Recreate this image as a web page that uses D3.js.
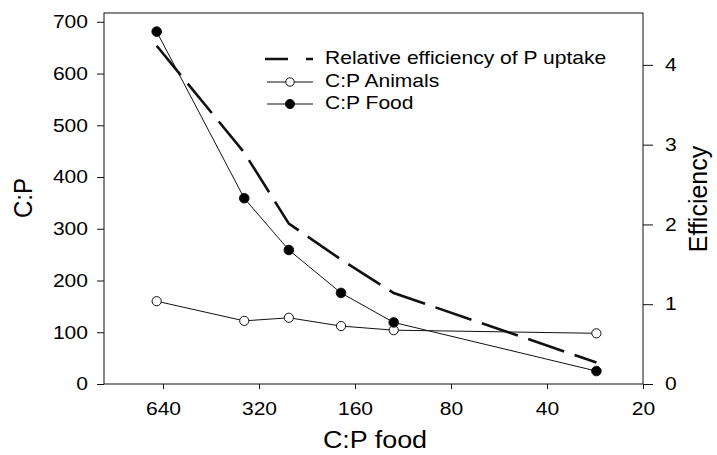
<!DOCTYPE html>
<html>
<head>
<meta charset="utf-8">
<script src="https://cdn.jsdelivr.net/npm/d3@7"></script>
<style>
  html, body { margin: 0; padding: 0; background: #fff; }
  svg { display: block; font-family: "Liberation Sans", Arial, sans-serif; }
</style>
</head>
<body>
<svg id="chart" width="717" height="455"></svg>
<script>
// ---- data ----
const cpFoodX = [670, 356, 258, 177, 121, 28];          // C:P of food (x, log scale)
const cpFood = [681, 359, 259, 176, 119, 25];           // C:P Food (left axis)
const cpAnimals = [160, 122, 128, 112, 104, 98];        // C:P Animals (left axis)
const efficiency = [4.24, 2.90, 2.01, 1.56, 1.14, 0.27]; // Relative efficiency (right axis)
const xTickValues = [640, 320, 160, 80, 40, 20];
const yLeftTicks = [0, 100, 200, 300, 400, 500, 600, 700];
const yRightTicks = [0, 1, 2, 3, 4];
const legendLabels = ["Relative efficiency of P uptake", "C:P Animals", "C:P Food"];

// ---- layout ----
const L = 104, R = 643, T = 13, B = 384;
const SX = 1.17; // horizontal stretch of the scanned text

const svg = d3.select("#chart");
const x = d3.scaleLog().base(2).domain([980, 20]).range([L, R]);
const yL = d3.scaleLinear().domain([0, 717]).range([B, T]);
const yR = d3.scaleLinear().domain([0, 4.65]).range([B, T]);

function stretch(sel) {
  sel.each(function () {
    const t = d3.select(this);
    const ax = +(t.attr("x") || 0);
    t.attr("transform", `translate(${ax},0) scale(${SX},1) translate(${-ax},0)`);
  });
}

const ink = "#111";

// frame
svg.append("rect").attr("x", L).attr("y", T).attr("width", R - L).attr("height", B - T)
  .attr("fill", "none").attr("stroke", ink).attr("stroke-width", 1);

// axes
const gx = svg.append("g").attr("transform", `translate(0,${B})`)
  .call(d3.axisBottom(x).tickValues(xTickValues).tickFormat(d3.format("d")).tickSize(5).tickPadding(13).tickSizeOuter(0));
const gl = svg.append("g").attr("transform", `translate(${L},0)`)
  .call(d3.axisLeft(yL).tickValues(yLeftTicks).tickSize(7).tickPadding(9).tickSizeOuter(0));
const gr = svg.append("g").attr("transform", `translate(${R},0)`)
  .call(d3.axisRight(yR).tickValues(yRightTicks).tickFormat(d3.format("d")).tickSize(10).tickPadding(12).tickSizeOuter(0));

[gx, gl, gr].forEach(g => {
  g.select(".domain").remove();
  g.selectAll(".tick line").attr("stroke", ink);
  g.selectAll(".tick text").attr("font-size", 18).attr("fill", "#000")
    .attr("font-family", "Liberation Sans, Arial, sans-serif").call(stretch);
});

// axis titles
svg.append("text").attr("x", 375).attr("y", 448).attr("text-anchor", "middle")
  .attr("font-size", 23).text("C:P food").call(stretch);
svg.append("text").attr("transform", `translate(32,198) scale(1.08,1) rotate(-90)`)
  .attr("text-anchor", "middle").attr("font-size", 24).text("C:P");
svg.append("text").attr("transform", `translate(707,199) rotate(-90)`)
  .attr("text-anchor", "middle").attr("font-size", 25).text("Efficiency");

// lines
const idx = d3.range(cpFoodX.length);
const lineEff = d3.line().x(i => x(cpFoodX[i])).y(i => yR(efficiency[i]));
const lineFood = d3.line().x(i => x(cpFoodX[i])).y(i => yL(cpFood[i]));
const lineAnim = d3.line().x(i => x(cpFoodX[i])).y(i => yL(cpAnimals[i]));

svg.append("path").attr("d", lineAnim(idx)).attr("fill", "none").attr("stroke", ink).attr("stroke-width", 1);
svg.append("path").attr("d", lineFood(idx)).attr("fill", "none").attr("stroke", ink).attr("stroke-width", 1);
svg.append("path").attr("d", lineEff(idx)).attr("fill", "none").attr("stroke", ink)
  .attr("stroke-width", 2.6).attr("stroke-dasharray", "38,11");

svg.selectAll("circle.anim").data(idx).join("circle").attr("class", "anim")
  .attr("cx", i => x(cpFoodX[i])).attr("cy", i => yL(cpAnimals[i])).attr("r", 4.6)
  .attr("fill", "#fff").attr("stroke", ink).attr("stroke-width", 1);
svg.selectAll("circle.food").data(idx).join("circle").attr("class", "food")
  .attr("cx", i => x(cpFoodX[i])).attr("cy", i => yL(cpFood[i])).attr("r", 4.8)
  .attr("fill", "#000").attr("stroke", ink).attr("stroke-width", 1);

// legend
const lg = svg.append("g");
const ly = [59, 82, 104];
lg.append("line").attr("x1", 265).attr("x2", 313).attr("y1", ly[0]).attr("y2", ly[0])
  .attr("stroke", ink).attr("stroke-width", 2.6).attr("stroke-dasharray", "23,18,7,50");
lg.append("line").attr("x1", 267).attr("x2", 313).attr("y1", ly[1]).attr("y2", ly[1])
  .attr("stroke", ink).attr("stroke-width", 1);
lg.append("circle").attr("cx", 290).attr("cy", ly[1]).attr("r", 4.2)
  .attr("fill", "#fff").attr("stroke", ink);
lg.append("line").attr("x1", 267).attr("x2", 313).attr("y1", ly[2]).attr("y2", ly[2])
  .attr("stroke", ink).attr("stroke-width", 1);
lg.append("circle").attr("cx", 290).attr("cy", ly[2]).attr("r", 4.6)
  .attr("fill", "#000").attr("stroke", ink);
legendLabels.forEach((t, i) => {
  lg.append("text").attr("x", 325).attr("y", ly[i] + 5.5).attr("font-size", 18).text(t).call(stretch);
});
</script>
</body>
</html>
